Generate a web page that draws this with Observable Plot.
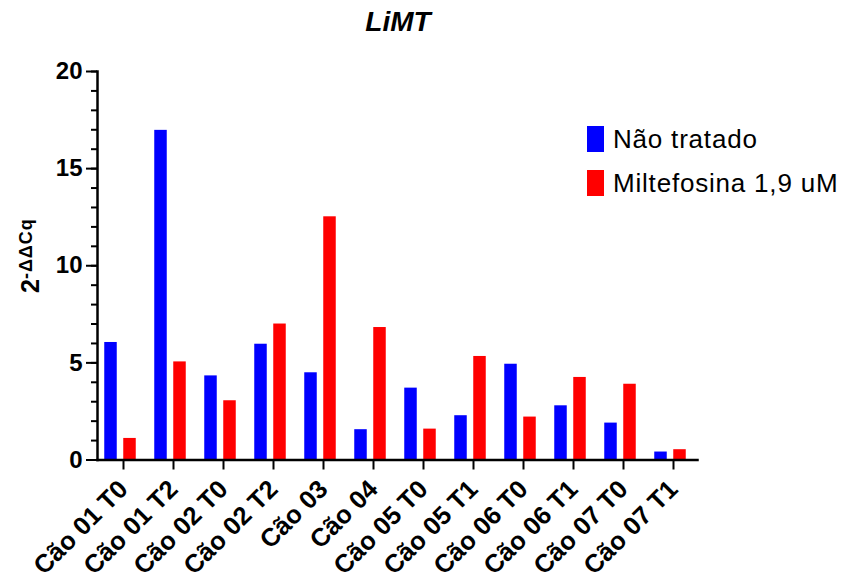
<!DOCTYPE html>
<html><head><meta charset="utf-8">
<script src="https://cdn.jsdelivr.net/npm/d3@7"></script>
<script src="https://cdn.jsdelivr.net/npm/@observablehq/plot@0.6"></script>
<style>body{margin:0;background:#fff;} svg{display:block}</style>
</head><body><div id="chart"></div>
<script>
const categories = ["Cão 01 T0", "Cão 01 T2", "Cão 02 T0", "Cão 02 T2", "Cão 03", "Cão 04",
  "Cão 05 T0", "Cão 05 T1", "Cão 06 T0", "Cão 06 T1", "Cão 07 T0", "Cão 07 T1"];
const naoTratado = [6.05, 16.97, 4.33, 5.96, 4.49, 1.56, 3.70, 2.28, 4.93, 2.79, 1.90, 0.41];
const miltefosina = [1.11, 5.05, 3.05, 7.00, 12.52, 6.82, 1.59, 5.33, 2.21, 4.25, 3.90, 0.53];
const seriesNames = ["Não tratado", "Miltefosina 1,9 uM"];
const seriesColors = ["#0000ff", "#ff0000"];
const yMajorTicks = [0, 5, 10, 15, 20];
const yMinorTicks = [0, 1, 2, 3, 4, 5, 6, 7, 8, 9, 10, 11, 12, 13, 14, 15, 16, 17, 18, 19, 20];
const titleText = "LiMT";

const rows = categories.map((c, i) => ({cat: c, nt: naoTratado[i], mf: miltefosina[i]}));
const font = "'Liberation Sans', Arial, Helvetica, sans-serif";

const chart = Plot.plot({
  width: 844, height: 583,
  marginTop: 71, marginBottom: 123.5, marginLeft: 97, marginRight: 147,
  style: {fontFamily: font, background: "#fff", overflow: "visible", color: "#000"},
  x: {domain: categories, range: [95, 695], padding: 0},
  y: {domain: [0, 20]},
  marks: [
    Plot.barY(rows, {x: "cat", y: "nt", fill: seriesColors[0], insetLeft: 9.25, insetRight: 28.25}),
    Plot.barY(rows, {x: "cat", y: "mf", fill: seriesColors[1], insetLeft: 28.25, insetRight: 9.25}),
    Plot.axisY(yMinorTicks, {tickSize: 6, strokeWidth: 2, tickFormat: () => "", label: null}),
    Plot.axisY(yMajorTicks, {tickSize: 11, strokeWidth: 2, fontSize: 24, fontWeight: "bold", tickPadding: 4, label: null}),
    Plot.axisX({tickSize: 10, strokeWidth: 2, tickRotate: -45, fontSize: 25.5, fontWeight: "bold", tickPadding: 15, dx: 3, label: null}),
    Plot.frame({anchor: "left", strokeWidth: 2.5}),
    Plot.frame({anchor: "bottom", strokeWidth: 2.5})
  ]
});
document.getElementById("chart").append(chart);

const svg = d3.select(chart);
svg.append("text").attr("x", 398).attr("y", 31).attr("text-anchor", "middle")
  .attr("font-family", font).attr("font-size", 28).attr("font-weight", "bold").attr("font-style", "italic")
  .attr("fill", "#000").text(titleText);

const yl = svg.append("text").attr("transform", "translate(39,293) rotate(-90)")
  .attr("text-anchor", "start")
  .attr("font-family", font).attr("font-weight", "bold").attr("fill", "#000");
yl.append("tspan").attr("font-size", 25).text("2");
yl.append("tspan").attr("font-size", 18).attr("dy", -7).attr("letter-spacing", 1).text("-ΔΔCq");

const lg = svg.append("g");
seriesNames.forEach((name, i) => {
  lg.append("rect").attr("x", 587).attr("y", 126 + i * 44).attr("width", 17).attr("height", 26).attr("fill", seriesColors[i]);
  lg.append("text").attr("x", 613).attr("y", 148 + i * 44).attr("text-anchor", "start")
    .attr("font-family", font).attr("font-size", 26).attr("letter-spacing", 0.8).attr("fill", "#000").text(name);
});
</script>
</body></html>
